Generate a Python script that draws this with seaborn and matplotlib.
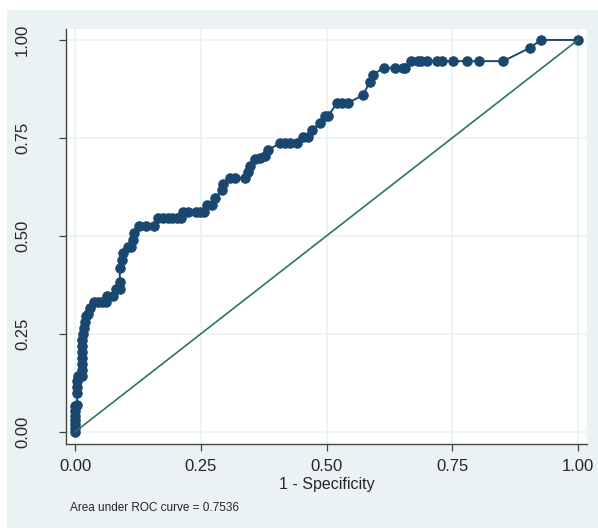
import matplotlib
matplotlib.use("Agg")
import matplotlib.pyplot as plt
import seaborn as sns
from matplotlib.patches import Rectangle

# ROC points
fpr = [0.000, 0.000, 0.000, 0.000, 0.000, 0.000, 0.000, 0.004, 0.004, 0.004,
       0.004, 0.006, 0.014, 0.014, 0.014, 0.014, 0.014, 0.014, 0.014, 0.016,
       0.018, 0.020, 0.022, 0.026, 0.030, 0.038, 0.046, 0.054, 0.062, 0.064,
       0.076, 0.082, 0.089, 0.089, 0.089, 0.093, 0.095, 0.105, 0.111, 0.115,
       0.117, 0.127, 0.141, 0.157, 0.165, 0.175, 0.185, 0.193, 0.203, 0.211,
       0.215, 0.225, 0.241, 0.249, 0.256, 0.262, 0.272, 0.278, 0.292, 0.294,
       0.308, 0.318, 0.338, 0.344, 0.348, 0.358, 0.368, 0.378, 0.384, 0.408,
       0.417, 0.427, 0.441, 0.453, 0.463, 0.471, 0.487, 0.497, 0.503, 0.521,
       0.531, 0.543, 0.573, 0.586, 0.592, 0.614, 0.636, 0.652, 0.656, 0.668,
       0.682, 0.688, 0.700, 0.720, 0.730, 0.751, 0.779, 0.803, 0.851, 0.905,
       0.926, 1.000]
tpr = [0.000, 0.010, 0.020, 0.031, 0.041, 0.054, 0.066, 0.069, 0.100, 0.115,
       0.130, 0.143, 0.143, 0.158, 0.173, 0.189, 0.204, 0.219, 0.235, 0.250,
       0.265, 0.281, 0.296, 0.301, 0.316, 0.332, 0.332, 0.332, 0.332, 0.347,
       0.347, 0.365, 0.365, 0.383, 0.418, 0.439, 0.457, 0.472, 0.472, 0.490,
       0.508, 0.526, 0.526, 0.526, 0.546, 0.546, 0.546, 0.546, 0.546, 0.546,
       0.561, 0.561, 0.561, 0.561, 0.561, 0.579, 0.579, 0.597, 0.617, 0.633,
       0.648, 0.648, 0.648, 0.663, 0.679, 0.696, 0.699, 0.704, 0.719, 0.737,
       0.737, 0.737, 0.737, 0.753, 0.753, 0.770, 0.788, 0.806, 0.806, 0.839,
       0.839, 0.839, 0.860, 0.893, 0.911, 0.929, 0.929, 0.929, 0.929, 0.946,
       0.946, 0.946, 0.946, 0.946, 0.946, 0.946, 0.946, 0.946, 0.946, 0.980,
       1.000, 1.000]
ref_x = [0, 1]
ref_y = [0, 1]
ticks = [0, 0.25, 0.5, 0.75, 1.0]
tick_labels = ["0.00", "0.25", "0.50", "0.75", "1.00"]
auc_text = "Area under ROC curve = 0.7536"

sns.set_theme(style="white")
plt.rcParams['font.family'] = ['Liberation Sans Narrow', 'Liberation Sans', 'DejaVu Sans']

bg = '#eaf2f3'
fig = plt.figure(figsize=(5.98, 5.30), dpi=100, facecolor='white')
# stata-like outer panel, kept behind the axes
fig.patches.append(Rectangle((7 / 598, 2 / 530), 591 / 598, 518 / 530,
                             transform=fig.transFigure, facecolor=bg,
                             edgecolor='none', zorder=-10))
ax = fig.add_axes([66 / 598, 1 - 444 / 530, 521 / 598, 415 / 530])
ax.set_facecolor('white')

sns.lineplot(x=fpr, y=tpr, sort=False, estimator=None, ax=ax,
             color='#1a476f', linewidth=1.4, marker='o', markersize=6.8,
             markeredgecolor='#1a476f', zorder=3)
sns.lineplot(x=ref_x, y=ref_y, ax=ax, color='#2f7366', linewidth=1.2, zorder=4)

ax.set_xlim(-0.018, 1.018)
ax.set_ylim(-0.031, 1.028)
ax.set_xticks(ticks)
ax.set_xticklabels(tick_labels)
ax.set_yticks(ticks)
ax.set_yticklabels(tick_labels, rotation=90, va='center')
ax.grid(True, color=bg, linewidth=1.2)
ax.set_axisbelow(True)

for side in ['top', 'right']:
    ax.spines[side].set_visible(False)
for side in ['left', 'bottom']:
    ax.spines[side].set_color('#444444')
    ax.spines[side].set_linewidth(1.0)

ax.tick_params(axis='x', direction='out', length=5, width=0.9, color='#444444',
               labelsize=12, pad=6, bottom=True)
ax.tick_params(axis='y', direction='out', length=5, width=0.9, color='#444444',
               labelsize=12, pad=21, left=True)
ax.set_xlabel('1 - Specificity', fontsize=11.5, labelpad=2)
ax.set_ylabel('')

fig.text(70 / 598, 1 - 508 / 530, auc_text, fontsize=8.5, ha='left', va='center')

fig.savefig('out.png', dpi=100, facecolor='white')
